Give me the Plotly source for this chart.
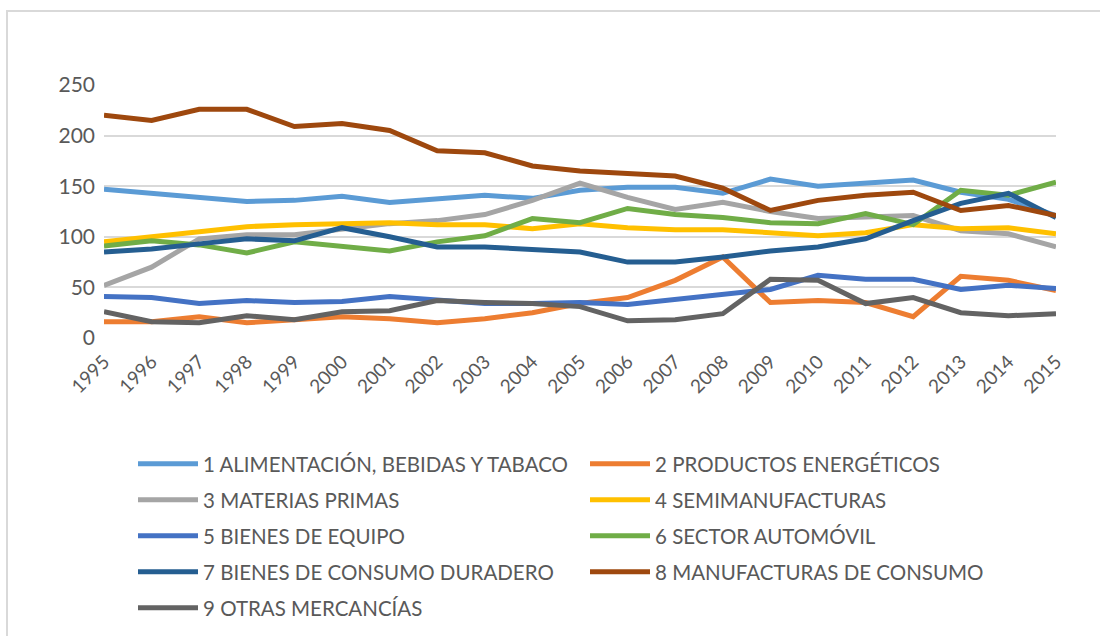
import plotly.graph_objects as go

years = list(range(1995, 2016))

s1_alimentacion = [147, 143, 139, 135, 136, 140, 134, 138, 141, 138, 146, 149, 149, 143, 157, 150, 153, 156, 144, 137, 121]
s2_energeticos = [16, 16, 21, 15, 18, 21, 19, 15, 19, 25, 34, 40, 57, 80, 35, 37, 35, 21, 61, 57, 47]
s3_materias = [52, 70, 98, 102, 102, 108, 113, 116, 122, 136, 153, 139, 127, 134, 125, 118, 119, 121, 106, 103, 90]
s4_semimanuf = [95, 100, 104, 110, 112, 113, 114, 112, 112, 108, 113, 109, 107, 107, 104, 101, 104, 112, 108, 109, 103]
s5_equipo = [41, 40, 34, 37, 35, 36, 41, 38, 34, 34, 35, 33, 38, 44, 48, 62, 58, 58, 48, 52, 49]
s6_automovil = [91, 96, 92, 84, 95, 91, 86, 95, 101, 118, 114, 128, 122, 119, 114, 113, 123, 112, 146, 141, 154]
s7_duradero = [85, 88, 93, 98, 96, 109, 100, 90, 90, 87, 85, 75, 75, 80, 86, 90, 98, 116, 133, 143, 119]
s8_manuf_consumo = [220, 215, 226, 226, 209, 212, 205, 185, 183, 170, 165, 162, 160, 148, 126, 136, 141, 144, 126, 131, 121]
s9_otras = [26, 16, 15, 22, 18, 26, 27, 37, 35, 34, 31, 17, 18, 24, 58, 57, 34, 40, 25, 22, 24]

names = [
    "1 ALIMENTACIÓN, BEBIDAS Y TABACO",
    "2 PRODUCTOS ENERGÉTICOS",
    "3 MATERIAS PRIMAS",
    "4 SEMIMANUFACTURAS",
    "5 BIENES DE EQUIPO",
    "6 SECTOR AUTOMÓVIL",
    "7 BIENES DE CONSUMO DURADERO",
    "8 MANUFACTURAS DE CONSUMO",
    "9 OTRAS MERCANCÍAS",
]
series = [s1_alimentacion, s2_energeticos, s3_materias, s4_semimanuf, s5_equipo,
          s6_automovil, s7_duradero, s8_manuf_consumo, s9_otras]
colors = ["#5B9BD5", "#ED7D31", "#A5A5A5", "#FFC000", "#4472C4",
          "#70AD47", "#255E91", "#9E480E", "#636363"]

W, H = 1100, 636
ML, MR, MT, MB = 104, 44, 85, 298
FONT = "Lato, 'Open Sans', sans-serif"
TXT = "#595959"

fig = go.Figure()
legend_keys = ["legend" if i == 0 else f"legend{i+1}" for i in range(len(names))]
for name, vals, col, lg in zip(names, series, colors, legend_keys):
    fig.add_trace(go.Scatter(
        x=years, y=vals, name=name, mode="lines",
        line=dict(color=col, width=5),
        legend=lg,
    ))

row_y = [464, 500, 536, 572, 608]
col_x = [133, 585]
legends = {}
for i, key in enumerate(legend_keys):
    r, c = divmod(i, 2)
    legends[key] = dict(
        orientation="h", xref="container", yref="container",
        xanchor="left", yanchor="middle",
        x=col_x[c] / W, y=1 - row_y[r] / H,
        itemwidth=60,
        font=dict(family=FONT, size=20.5, color=TXT),
        bgcolor="rgba(0,0,0,0)",
        itemclick=False, itemdoubleclick=False,
    )

pw = W - ML - MR
ph = H - MT - MB

fig.update_layout(
    width=W, height=H,
    margin=dict(l=ML, r=MR, t=MT, b=MB, autoexpand=False),
    paper_bgcolor="white", plot_bgcolor="white",
    font=dict(family=FONT, color=TXT),
    showlegend=True,
    xaxis=dict(
        range=[1995, 2015], tickmode="array", tickvals=years,
        ticktext=[str(y) for y in years], tickangle=-45,
        showgrid=False, zeroline=False, showline=False,
        ticks="", ticklabelstandoff=8,
        tickfont=dict(family=FONT, size=19, color=TXT),
    ),
    yaxis=dict(
        range=[0, 250], tickvals=[0, 50, 100, 150, 200, 250],
        showgrid=True, gridcolor="#D9D9D9", gridwidth=2,
        zeroline=False, showline=False, ticks="",
        ticklabelstandoff=8,
        tickfont=dict(family=FONT, size=21, color=TXT),
    ),
    shapes=[dict(
        type="rect", xref="paper", yref="paper",
        x0=(7 - ML) / pw, x1=(1150 - ML) / pw,
        y0=(H - MB - 700) / ph, y1=(H - MB - 11) / ph,
        line=dict(color="#D9D9D9", width=2), fillcolor="rgba(0,0,0,0)",
        layer="below",
    )],
    **legends,
)

fig.write_html(
    "out.html",
    config={"displayModeBar": False},
    post_script="document.body.style.margin='0';document.body.style.overflow='hidden';",
)
